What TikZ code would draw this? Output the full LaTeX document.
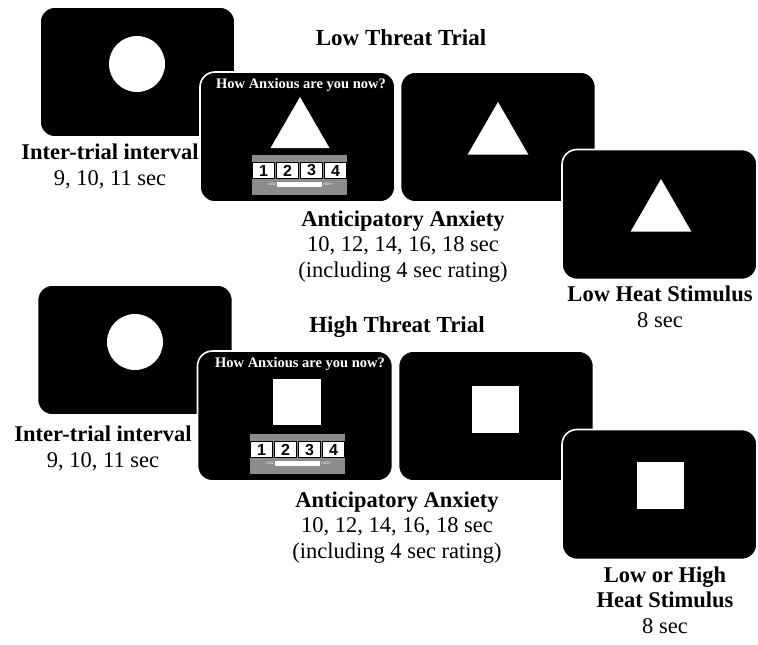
\documentclass[tikz,border=0pt]{standalone}
\usepackage{fontspec}
\setmainfont{Liberation Serif}
\newfontfamily\keyfont{Liberation Sans}
\usetikzlibrary{shapes.geometric}

\begin{document}
\begin{tikzpicture}[x=1pt, y=-1pt,
    screen/.style={rectangle, rounded corners=15pt, fill=black, draw=white,
        line width=1.6pt, minimum width=195pt, minimum height=130pt, inner sep=0pt},
    dot/.style={circle, fill=white, minimum size=56pt, inner sep=0pt},
    tri/.style={regular polygon, regular polygon sides=3, fill=white,
        minimum size=70pt, inner sep=0pt},
    sq/.style={rectangle, fill=white, minimum width=47pt, minimum height=47pt, inner sep=0pt},
    rating/.style={rectangle, fill=black!45, minimum width=95pt, minimum height=40pt, inner sep=0pt},
    key/.style={rectangle, fill=white, draw=black, line width=0.8pt,
        minimum width=22pt, minimum height=16pt, inner sep=0pt,
        font=\keyfont\bfseries\fontsize{16}{16}\selectfont},
    bar/.style={rectangle, fill=white, minimum width=45pt, minimum height=5pt, inner sep=0pt},
    tiny/.style={inner sep=1pt, text=white, font=\keyfont\fontsize{3.5}{4}\selectfont},
    ask/.style={anchor=base, inner sep=0pt, text=white, font=\bfseries\fontsize{14.5}{15}\selectfont},
    title/.style={anchor=base, inner sep=0pt, font=\bfseries\fontsize{23}{25}\selectfont},
    lab/.style={anchor=base, inner sep=0pt, align=center, font=\fontsize{22.5}{25.5}\selectfont}]
    \useasboundingbox (0,0) rectangle (758,645);

    % low threat trial
    \node[title] (lowtitle) at (401,45) {Low Threat Trial};
    \node[screen] (itiA) at (137.5,72) {};
    \node[dot] (fixA) at (137,64) {};
    \node[lab] (itiAlab) at (110,185) {\textbf{Inter-trial interval}\\9, 10, 11 sec};
    \node[screen] (askA) at (297.5,137) {};
    \node[ask] (askAtxt) at (301,88) {How Anxious are you now?};
    \node[tri, minimum size=68pt] (cueA1) at (300,131) {};
    \node[rating] (rateA) at (299.5,175) {};
    \foreach \i in {1,...,4}
        \node[key] (keyA\i) at (239.5+24*\i,170.5) {\i};
    \node[bar] (barA) at (299.5,184.5) {};
    \node[tiny, anchor=east] (lowA) at (barA.west) {LOW};
    \node[tiny, anchor=west] (highA) at (barA.east) {HIGH};
    \node[screen] (antA) at (498,137) {};
    \node[tri] (cueA2) at (498,137) {};
    \node[lab] (antAlab) at (403,277) {\textbf{Anticipatory Anxiety}\\10, 12, 14, 16, 18 sec\\(including 4 sec rating)};
    \node[screen] (heatA) at (659.5,214.5) {};
    \node[tri] (cueA3) at (661,214) {};
    \node[lab] (heatAlab) at (660,327) {\textbf{Low Heat Stimulus}\\8 sec};

    % high threat trial
    \node[title] (hightitle) at (397,332) {High Threat Trial};
    \node[screen] (itiB) at (135,350) {};
    \node[dot] (fixB) at (135,342) {};
    \node[lab] (itiBlab) at (103,467) {\textbf{Inter-trial interval}\\9, 10, 11 sec};
    \node[screen] (askB) at (295,416) {};
    \node[ask] (askBtxt) at (300,367) {How Anxious are you now?};
    \node[sq, minimum width=48pt, minimum height=46pt] (cueB1) at (297,402) {};
    \node[rating] (rateB) at (297.5,454) {};
    \foreach \i in {1,...,4}
        \node[key] (keyB\i) at (237.5+24*\i,449.5) {\i};
    \node[bar] (barB) at (297.5,463.5) {};
    \node[tiny, anchor=east] (lowB) at (barB.west) {LOW};
    \node[tiny, anchor=west] (highB) at (barB.east) {HIGH};
    \node[screen] (antB) at (496,416) {};
    \node[sq] (cueB2) at (495.5,409.5) {};
    \node[lab] (antBlab) at (397,558) {\textbf{Anticipatory Anxiety}\\10, 12, 14, 16, 18 sec\\(including 4 sec rating)};
    \node[screen] (heatB) at (659.5,494.5) {};
    \node[sq] (cueB3) at (660.5,485.5) {};
    \node[lab] (heatBlab) at (665,633) {\textbf{Low or High}\\\textbf{Heat Stimulus}\\8 sec};
\end{tikzpicture}
\end{document}
